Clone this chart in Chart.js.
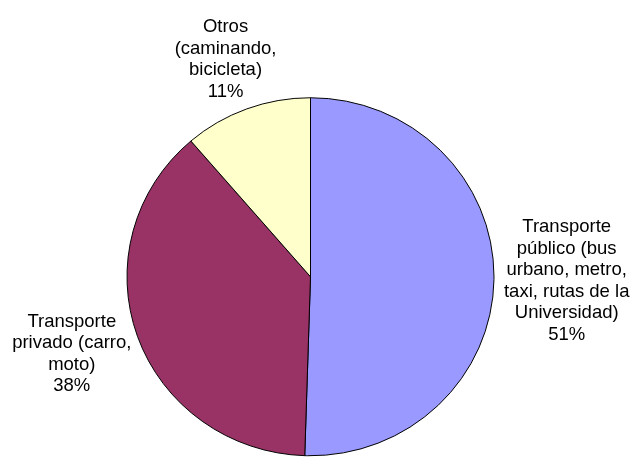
<!DOCTYPE html>
<html>
<head>
<meta charset="utf-8">
<script src="https://cdn.jsdelivr.net/npm/chart.js@4"></script>
<style>
    body { margin: 0; background: #fff; }
    #chart_area { width: 630px; height: 457px; }
</style>
</head>
<body>
<div id="chart_area"><canvas id="modos" width="630" height="457"></canvas></div>
<script>
// Data
var categoryLines = [
    ["Transporte", "público (bus", "urbano, metro,", "taxi, rutas de la", "Universidad)"],
    ["Transporte", "privado (carro,", "moto)"],
    ["Otros", "(caminando,", "bicicleta)"]
];
var shareValues = [50.5, 38.2, 11.3];
var sliceColors = ["#9999FF", "#993366", "#FFFFCC"];

// The original pie is a little flatter than a circle
var flatten = 0.9755;

const squashPie = {
    id: "squashPie",
    beforeDatasetsDraw(chart) {
        const arc = chart.getDatasetMeta(0).data[0];
        const ctx = chart.ctx;
        ctx.save();
        ctx.translate(arc.x, arc.y);
        ctx.scale(1, flatten);
        ctx.translate(-arc.x, -arc.y);
    },
    afterDatasetsDraw(chart) {
        chart.ctx.restore();
    }
};

// Draws each label outside its slice, pushed away along the slice's middle angle
const outsideLabels = {
    id: "outsideLabels",
    afterDraw(chart) {
        const ctx = chart.ctx;
        const meta = chart.getDatasetMeta(0);
        const total = shareValues.reduce((a, b) => a + b, 0);
        const fontSize = 18.5;
        const lineH = 21.5;
        const gap = 10;
        ctx.save();
        ctx.font = fontSize + "px 'Liberation Sans', Arial, sans-serif";
        ctx.fillStyle = "#000";
        ctx.textAlign = "center";
        ctx.textBaseline = "middle";
        meta.data.forEach(function (arc, i) {
            const p = arc.getProps(["x", "y", "startAngle", "endAngle", "outerRadius"], true);
            const mid = (p.startAngle + p.endAngle) / 2;
            const dx = Math.cos(mid), dy = Math.sin(mid);
            const lines = categoryLines[i].concat([Math.round(shareValues[i] / total * 100) + "%"]);
            let w = 0;
            lines.forEach(function (l) { w = Math.max(w, ctx.measureText(l).width); });
            const h = lines.length * lineH;
            const ax = p.x + dx * (p.outerRadius + gap);
            const ay = p.y + dy * (p.outerRadius * flatten + gap);
            const cx = ax + dx * w / 2;
            const cy = ay + dy * h / 2;
            lines.forEach(function (l, k) {
                ctx.fillText(l, cx, cy - h / 2 + lineH * (k + 0.5));
            });
        });
        ctx.restore();
    }
};

new Chart("modos", {
    type: "pie",
    data: {
        labels: categoryLines.map(l => l.join(" ")),
        datasets: [{
            data: shareValues,
            backgroundColor: sliceColors,
            borderColor: "#000",
            borderWidth: 1
        }]
    },
    options: {
        responsive: false,
        animation: false,
        radius: 183.5,
        layout: { padding: { left: 0, right: 9, top: 96.5, bottom: 0 } },
        plugins: {
            legend: { display: false },
            tooltip: { enabled: false }
        }
    },
    plugins: [squashPie, outsideLabels]
});
</script>
</body>
</html>
